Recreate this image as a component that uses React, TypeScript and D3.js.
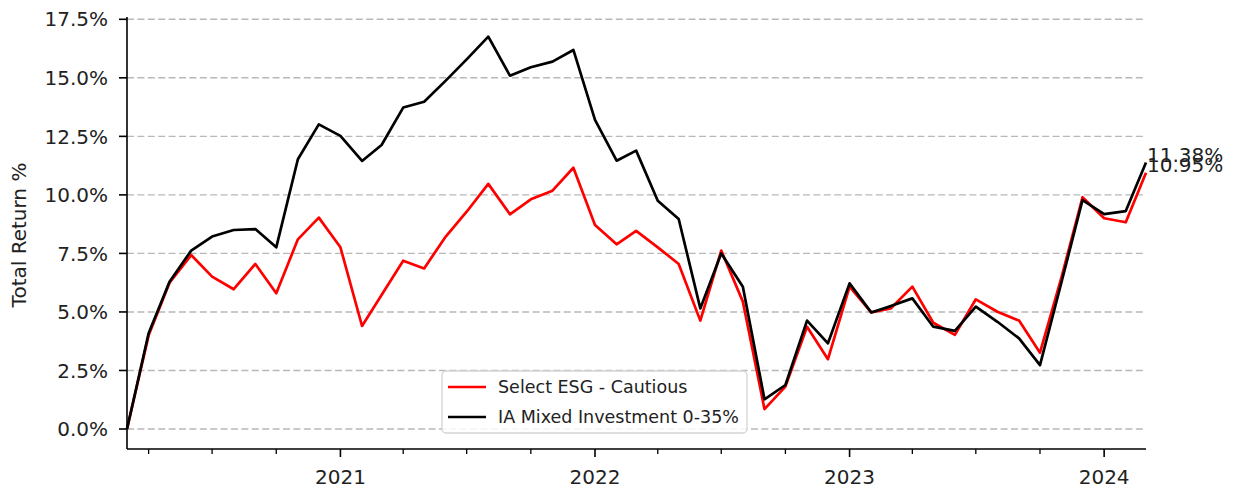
import React from "react";
import * as d3 from "d3";

const dates = [
  "2020-03-01", "2020-04-01", "2020-05-01", "2020-06-01", "2020-07-01", "2020-08-01", "2020-09-01",
  "2020-10-01", "2020-11-01", "2020-12-01", "2021-01-01", "2021-02-01", "2021-03-01", "2021-04-01",
  "2021-05-01", "2021-06-01", "2021-07-01", "2021-08-01", "2021-09-01", "2021-10-01", "2021-11-01",
  "2021-12-01", "2022-01-01", "2022-02-01", "2022-03-01", "2022-04-01", "2022-05-01", "2022-06-01",
  "2022-07-01", "2022-08-01", "2022-09-01", "2022-10-01", "2022-11-01", "2022-12-01", "2023-01-01",
  "2023-02-01", "2023-03-01", "2023-04-01", "2023-05-01", "2023-06-01", "2023-07-01", "2023-08-01",
  "2023-09-01", "2023-10-01", "2023-11-01", "2023-12-01", "2024-01-01", "2024-02-01", "2024-03-01",
];

const esgCautious = [
  0, 4.0, 6.25, 7.43, 6.51, 5.97, 7.05, 5.8, 8.1, 9.03, 7.76, 4.4, 5.72, 7.19, 6.86, 8.22, 9.28,
  10.47, 9.17, 9.81, 10.18, 11.16, 8.71, 7.89, 8.46, 7.76, 7.05, 4.63, 7.62, 5.44, 0.85, 1.81, 4.37,
  2.98, 6.08, 4.98, 5.15, 6.08, 4.54, 4.02, 5.54, 5.01, 4.63, 3.26, 6.5, 9.9, 9.0, 8.83, 10.95,
];

const iaMixed = [
  0, 4.09, 6.29, 7.62, 8.22, 8.5, 8.54, 7.76, 11.52, 13.01, 12.52, 11.45, 12.13, 13.73, 13.98, 14.88,
  15.79, 16.76, 15.09, 15.45, 15.69, 16.19, 13.2, 11.46, 11.89, 9.75, 8.97, 5.15, 7.5, 6.08, 1.27,
  1.88, 4.63, 3.66, 6.22, 4.98, 5.25, 5.58, 4.37, 4.19, 5.23, 4.58, 3.87, 2.73, 6.29, 9.78, 9.18,
  9.31, 11.38,
];

const seriesNames = ["Select ESG - Cautious", "IA Mixed Investment 0-35%"];
const seriesColors = ["#ff0000", "#000000"];
const yTicks = [0, 2.5, 5, 7.5, 10, 12.5, 15, 17.5];
const yearTicks = ["2021-01-01", "2022-01-01", "2023-01-01", "2024-01-01"];
const yLabel = "Total Return %";

const W = 1233;
const H = 490;
const FONT = "'DejaVu Sans', sans-serif";
const TEXT = "#222";

export default function App() {
  const parse = d3.timeParse("%Y-%m-%d");
  const xDates = dates.map((d) => parse(d) as Date);
  const x = d3.scaleTime().domain([xDates[0], xDates[xDates.length - 1]]).range([127, 1146]);
  const y = d3.scaleLinear().domain([-0.854, 17.598]).range([449, 17]);
  const [x0, x1] = x.range();
  const [yb, yt] = y.range();

  const line = d3
    .line<number>()
    .x((_, i) => x(xDates[i]))
    .y((v) => y(v));

  const series = [esgCautious, iaMixed];
  const majorDates = yearTicks.map((d) => parse(d) as Date);
  const minorDates = d3
    .timeMonth.every(3)!
    .range(x.domain()[0], x.domain()[1])
    .filter((d) => d.getMonth() !== 0);
  const fmt = (v: number) => d3.format(".1f")(v) + "%";

  const legendX = 442;
  const legendY = 371;

  return (
    <svg
      width={W}
      height={H}
      style={{ position: "absolute", left: 0, top: 0, background: "#fff" }}
      fontFamily={FONT}
    >
      <rect x={0} y={0} width={W} height={H} fill="#fff" />
      {/* grid */}
      {yTicks.map((t) => (
        <line
          key={"g" + t}
          x1={x0}
          x2={x1}
          y1={y(t)}
          y2={y(t)}
          stroke="#b8b8b8"
          strokeWidth={1.4}
          strokeDasharray="7,3.4"
        />
      ))}
      {/* series */}
      {series.map((s, i) => (
        <path
          key={"s" + i}
          d={line(s) || ""}
          fill="none"
          stroke={seriesColors[i]}
          strokeWidth={2.7}
          strokeLinejoin="round"
        />
      ))}
      {/* end labels */}
      {series.map((s, i) => (
        <text
          key={"e" + i}
          x={x(xDates[xDates.length - 1]) + 1}
          y={y(s[s.length - 1]) - 1}
          fontSize={20}
          fill={TEXT}
        >
          {d3.format(".2f")(s[s.length - 1]) + "%"}
        </text>
      ))}
      {/* spines */}
      <line x1={x0} x2={x0} y1={yb} y2={yt} stroke="#000" strokeWidth={1.6} />
      <line x1={x0} x2={x1} y1={yb} y2={yb} stroke="#000" strokeWidth={1.6} />
      {/* y ticks */}
      {yTicks.map((t) => (
        <g key={"y" + t}>
          <line x1={x0 - 8} x2={x0} y1={y(t)} y2={y(t)} stroke="#000" strokeWidth={1.6} />
          <text x={108} y={y(t)} dy="0.36em" textAnchor="end" fontSize={20} fill={TEXT}>
            {fmt(t)}
          </text>
        </g>
      ))}
      {/* x ticks */}
      {majorDates.map((d) => (
        <g key={"x" + d.getTime()}>
          <line x1={x(d)} x2={x(d)} y1={yb} y2={yb + 8} stroke="#000" strokeWidth={1.6} />
          <text x={x(d)} y={484} textAnchor="middle" fontSize={20} fill={TEXT}>
            {d3.timeFormat("%Y")(d)}
          </text>
        </g>
      ))}
      {minorDates.map((d) => (
        <line
          key={"m" + d.getTime()}
          x1={x(d)}
          x2={x(d)}
          y1={yb}
          y2={yb + 5}
          stroke="#000"
          strokeWidth={1.3}
        />
      ))}
      {/* y label */}
      <text
        transform={`translate(26, 235) rotate(-90)`}
        textAnchor="middle"
        fontSize={20}
        fill={TEXT}
      >
        {yLabel}
      </text>
      {/* legend */}
      <rect
        x={legendX}
        y={legendY}
        width={305}
        height={62}
        rx={4}
        fill="#fff"
        fillOpacity={0.85}
        stroke="#d4d4d4"
        strokeWidth={1.3}
      />
      {seriesNames.map((n, i) => (
        <g key={"l" + i}>
          <line
            x1={legendX + 6}
            x2={legendX + 44}
            y1={legendY + 16 + i * 30}
            y2={legendY + 16 + i * 30}
            stroke={seriesColors[i]}
            strokeWidth={2.7}
          />
          <text x={legendX + 56} y={legendY + 16 + i * 30} dy="0.36em" fontSize={17.5} fill={TEXT}>
            {n}
          </text>
        </g>
      ))}
    </svg>
  );
}
